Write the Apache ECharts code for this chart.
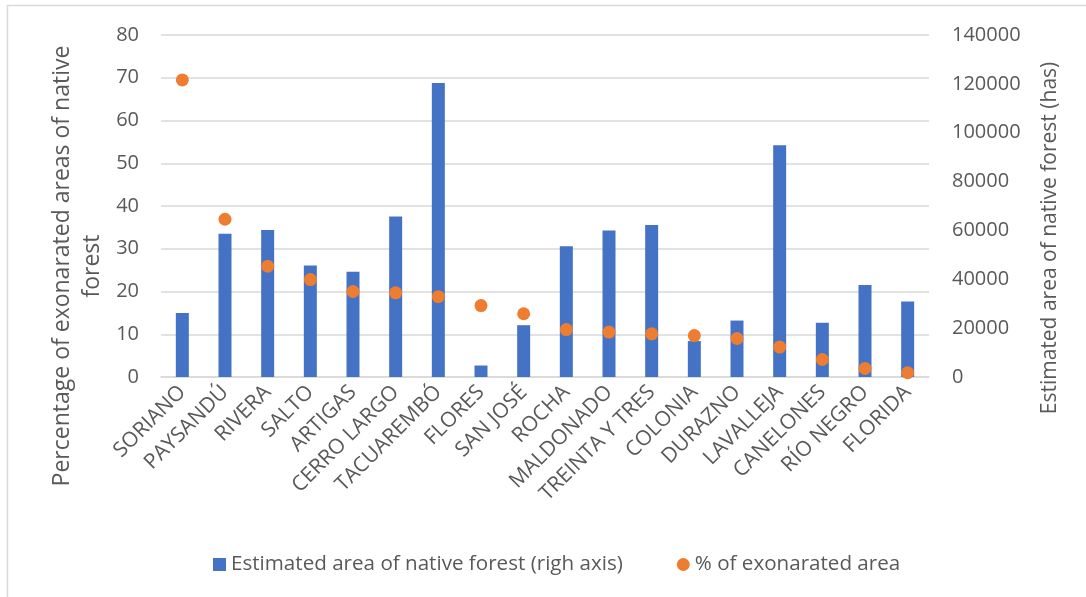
<!DOCTYPE html>
<html>
<head>
<meta charset="utf-8">
<script src="https://cdn.jsdelivr.net/npm/echarts@6/dist/echarts.min.js"></script>
<style>
  html, body { margin: 0; padding: 0; background: #fff; }
  #chart { width: 1086px; height: 597px; }
</style>
</head>
<body>
<div id="chart"></div>
<script>
// Departments of Uruguay
const departments = [
  'SORIANO', 'PAYSANDÚ', 'RIVERA', 'SALTO', 'ARTIGAS', 'CERRO LARGO',
  'TACUAREMBÓ', 'FLORES', 'SAN JOSÉ', 'ROCHA', 'MALDONADO', 'TREINTA Y TRES',
  'COLONIA', 'DURAZNO', 'LAVALLEJA', 'CANELONES', 'RÍO NEGRO', 'FLORIDA'
];

// Estimated area of native forest (has), right axis
const forestArea = [
  26200, 58600, 60200, 45600, 43100, 65700,
  120400, 4700, 21200, 53500, 60000, 62200,
  14700, 23100, 94900, 22200, 37700, 30900
];

// % of exonarated area, left axis
const exoneratedPct = [
  69.5, 36.9, 25.9, 22.8, 20.0, 19.7,
  18.8, 16.7, 14.8, 11.1, 10.5, 10.1,
  9.7, 9.0, 7.0, 4.1, 2.0, 1.0
];

const leftTitle = 'Percentage of exonarated areas of native';
const leftTitle2 = 'forest';
const rightTitle = 'Estimated area of native forest (has)';
const barName = 'Estimated area of native forest (righ axis)';
const dotName = '% of exonarated area';

const FONT = '"Open Sans", sans-serif';
const TEXT = '#595959';
const GRIDLINE = '#D9D9D9';

const chart = echarts.init(document.getElementById('chart'), null, { renderer: 'canvas' });

chart.setOption({
  backgroundColor: '#ffffff',
  animation: false,
  textStyle: { fontFamily: FONT, color: TEXT },
  grid: { left: 161, right: 157, top: 35, bottom: 220, containLabel: false },
  legend: {
    left: 208,
    top: 549,
    itemWidth: 13,
    itemHeight: 13,
    itemGap: 54,
    textStyle: { fontFamily: FONT, fontSize: 20.6, color: TEXT },
    data: [
      { name: barName, icon: 'rect' },
      { name: dotName, icon: 'circle' }
    ]
  },
  xAxis: {
    type: 'category',
    data: departments,
    boundaryGap: true,
    axisLine: { show: true, lineStyle: { color: GRIDLINE, width: 1.5 } },
    axisTick: { show: false },
    axisLabel: {
      interval: 0,
      rotate: 45,
      margin: 12,
      fontFamily: FONT,
      fontSize: 21,
      color: TEXT
    }
  },
  yAxis: [
    {
      type: 'value',
      min: 0, max: 80, interval: 10,
      position: 'left',
      axisLine: { show: false },
      axisTick: { show: false },
      splitLine: { show: true, lineStyle: { color: GRIDLINE, width: 1.5 } },
      axisLabel: { margin: 22, fontFamily: FONT, fontSize: 20, color: TEXT }
    },
    {
      type: 'value',
      min: 0, max: 140000, interval: 20000,
      position: 'right',
      axisLine: { show: false },
      axisTick: { show: false },
      splitLine: { show: false },
      axisLabel: {
        margin: 23, fontFamily: FONT, fontSize: 20, color: TEXT,
        formatter: (v) => String(v)
      }
    }
  ],
  series: [
    {
      name: barName,
      type: 'bar',
      yAxisIndex: 1,
      data: forestArea,
      barWidth: 13,
      itemStyle: { color: '#4472C4' },
      z: 2
    },
    {
      name: dotName,
      type: 'scatter',
      yAxisIndex: 0,
      data: exoneratedPct,
      symbol: 'circle',
      symbolSize: 13,
      itemStyle: { color: '#ED7D31', opacity: 1 },
      z: 3
    }
  ],
  graphic: [
    {
      type: 'rect',
      silent: true,
      shape: { x: 7.5, y: 5.5, width: 1200, height: 700 },
      style: { fill: 'none', stroke: GRIDLINE, lineWidth: 1.5 }
    },
    {
      type: 'text',
      x: 62, y: 266,
      rotation: Math.PI / 2,
      style: {
        text: leftTitle,
        fontFamily: FONT, fontSize: 23, fill: TEXT,
        align: 'center', verticalAlign: 'middle'
      }
    },
    {
      type: 'text',
      x: 92, y: 266,
      rotation: Math.PI / 2,
      style: {
        text: leftTitle2,
        fontFamily: FONT, fontSize: 23, fill: TEXT,
        align: 'center', verticalAlign: 'middle'
      }
    },
    {
      type: 'text',
      x: 1050, y: 238,
      rotation: Math.PI / 2,
      style: {
        text: rightTitle,
        fontFamily: FONT, fontSize: 21, fill: TEXT,
        align: 'center', verticalAlign: 'middle'
      }
    }
  ]
});
</script>
</body>
</html>
